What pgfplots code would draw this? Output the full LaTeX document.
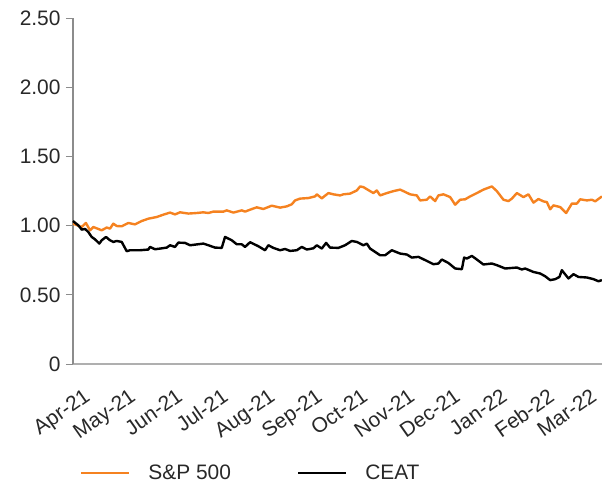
\documentclass[border=0pt]{standalone}
\usepackage{pgfplots}
\pgfplotsset{compat=1.18}
\usepackage{fontspec}
\setmainfont{Liberation Sans}
\definecolor{spx}{RGB}{245,130,32}
\definecolor{axgray}{RGB}{140,140,140}
\definecolor{xgray}{RGB}{175,175,175}
\definecolor{txt}{RGB}{40,40,40}
\begin{document}
\begin{tikzpicture}
\begin{axis}[
  scale only axis, width=529bp, height=346bp,
  xmin=0, xmax=11.04, ymin=0, ymax=2.5,
  axis x line*=bottom, axis y line*=left,
  x axis line style={xgray, line width=1.5bp},
  y axis line style={axgray, line width=1.5bp},
  xtick={0,0.950,1.932,2.882,3.864,4.846,5.796,6.777,7.727,8.709,9.691,10.578},
  xticklabels={Apr-21,May-21,Jun-21,Jul-21,Aug-21,Sep-21,Oct-21,Nov-21,Dec-21,Jan-22,Feb-22,Mar-22},
  ytick={0,0.5,1,1.5,2,2.5},
  yticklabels={0,0.50,1.00,1.50,2.00,2.50},
  tick align=outside, major tick length=7bp,
  xtick style={draw=none},
  ytick style={axgray, line width=1bp},
  yticklabel style={font=\fontsize{21}{25}\selectfont, text=txt, xshift=-2bp},
  xticklabel style={font=\fontsize{21}{25}\selectfont, text=txt, anchor=north east, inner sep=1bp, xshift=10bp, yshift=-15bp, rotate=35},
  clip=false,
  legend style={at={(axis description cs:0,-0.315)}, anchor=west, xshift=7bp, draw=none, fill=none,
    legend columns=2, font=\fontsize{21}{25}\selectfont, text=txt, inner sep=0pt,
    nodes={inner sep=0pt, anchor=west},
    /tikz/every even column/.append style={column sep=66bp}},
  legend image code/.code={\draw[#1, line width=2.5bp] (0bp,0bp) -- (48bp,0bp); \path[draw=none, fill=none] (0bp,0bp) -- (67bp,0bp);},
]
\addplot[spx, line width=2.4bp, line join=round] coordinates {
(0.00,1.014) (0.18,0.990) (0.27,1.019) (0.355,0.966) (0.424,0.990) (0.599,0.966) (0.704,0.986) (0.772,0.978)
(0.841,1.014) (0.912,0.997) (1.017,0.995) (1.154,1.019) (1.294,1.009) (1.434,1.033) (1.572,1.050) (1.747,1.062)
(1.885,1.079) (2.025,1.094) (2.129,1.081) (2.234,1.096) (2.407,1.087) (2.582,1.091) (2.720,1.096) (2.825,1.091)
(2.929,1.101) (3.138,1.101) (3.209,1.110) (3.347,1.094) (3.522,1.110) (3.591,1.101) (3.695,1.115) (3.835,1.132)
(3.973,1.120) (4.148,1.144) (4.322,1.130) (4.461,1.139) (4.566,1.154) (4.635,1.182) (4.739,1.195) (4.912,1.199)
(5.052,1.211) (5.088,1.226) (5.192,1.197) (5.330,1.235) (5.434,1.226) (5.574,1.218) (5.643,1.226) (5.783,1.231)
(5.923,1.254) (5.992,1.283) (6.061,1.278) (6.269,1.235) (6.340,1.254) (6.409,1.218) (6.549,1.235) (6.687,1.249)
(6.827,1.260) (6.896,1.249) (7.035,1.226) (7.175,1.218) (7.244,1.182) (7.384,1.187) (7.453,1.211) (7.557,1.177)
(7.626,1.218) (7.731,1.226) (7.871,1.206) (7.975,1.151) (8.079,1.187) (8.184,1.190) (8.288,1.211) (8.428,1.235)
(8.566,1.260) (8.741,1.283) (8.846,1.249) (8.983,1.187) (9.088,1.177) (9.159,1.195) (9.263,1.235) (9.401,1.206)
(9.505,1.226) (9.610,1.166) (9.714,1.192) (9.818,1.175) (9.889,1.170) (9.958,1.118) (10.027,1.146) (10.167,1.134)
(10.292,1.091) (10.411,1.159) (10.516,1.159) (10.585,1.190) (10.724,1.182) (10.829,1.187) (10.898,1.175) (11.038,1.211)
};
\addlegendentry{S\&P 500}
\addplot[black, line width=2.4bp, line join=round] coordinates {
(0.00,1.033) (0.111,1.002) (0.182,0.971) (0.251,0.976) (0.319,0.954) (0.390,0.918) (0.459,0.901) (0.549,0.870)
(0.599,0.894) (0.689,0.918) (0.772,0.894) (0.841,0.882) (0.912,0.889) (1.017,0.882) (1.121,0.815) (1.190,0.822)
(1.399,0.822) (1.572,0.827) (1.608,0.846) (1.712,0.829) (1.816,0.834) (1.956,0.841) (2.025,0.858) (2.129,0.846)
(2.198,0.877) (2.338,0.875) (2.443,0.858) (2.720,0.870) (2.825,0.858) (2.965,0.841) (3.104,0.839) (3.173,0.918)
(3.313,0.894) (3.418,0.865) (3.522,0.865) (3.591,0.846) (3.695,0.880) (3.868,0.851) (4.008,0.822) (4.077,0.858)
(4.182,0.839) (4.322,0.822) (4.426,0.831) (4.530,0.817) (4.670,0.822) (4.775,0.846) (4.879,0.827) (5.017,0.836)
(5.088,0.858) (5.192,0.834) (5.282,0.875) (5.365,0.841) (5.539,0.839) (5.678,0.858) (5.818,0.889) (5.923,0.882)
(6.061,0.858) (6.132,0.870) (6.200,0.834) (6.305,0.810) (6.409,0.786) (6.514,0.786) (6.653,0.822) (6.827,0.798)
(6.967,0.791) (7.071,0.769) (7.209,0.774) (7.384,0.745) (7.522,0.721) (7.626,0.726) (7.697,0.755) (7.835,0.730)
(7.975,0.690) (8.115,0.685) (8.163,0.769) (8.219,0.762) (8.324,0.781) (8.428,0.755) (8.566,0.719) (8.741,0.726)
(8.846,0.714) (9.019,0.690) (9.263,0.697) (9.367,0.683) (9.436,0.690) (9.610,0.665) (9.749,0.654) (9.854,0.634)
(9.958,0.606) (10.063,0.613) (10.152,0.629) (10.202,0.678) (10.340,0.618) (10.445,0.649) (10.549,0.629) (10.724,0.625)
(10.862,0.613) (10.967,0.598) (11.038,0.606)
};
\addlegendentry{CEAT}
\coordinate (O) at (rel axis cs:0,0);
\coordinate (TR) at (rel axis cs:1,1);
\end{axis}
\pgfresetboundingbox
\path[use as bounding box] ([shift={(-73bp,-121bp)}]O) rectangle ([shift={(0bp,18bp)}]TR);
\end{tikzpicture}
\end{document}
